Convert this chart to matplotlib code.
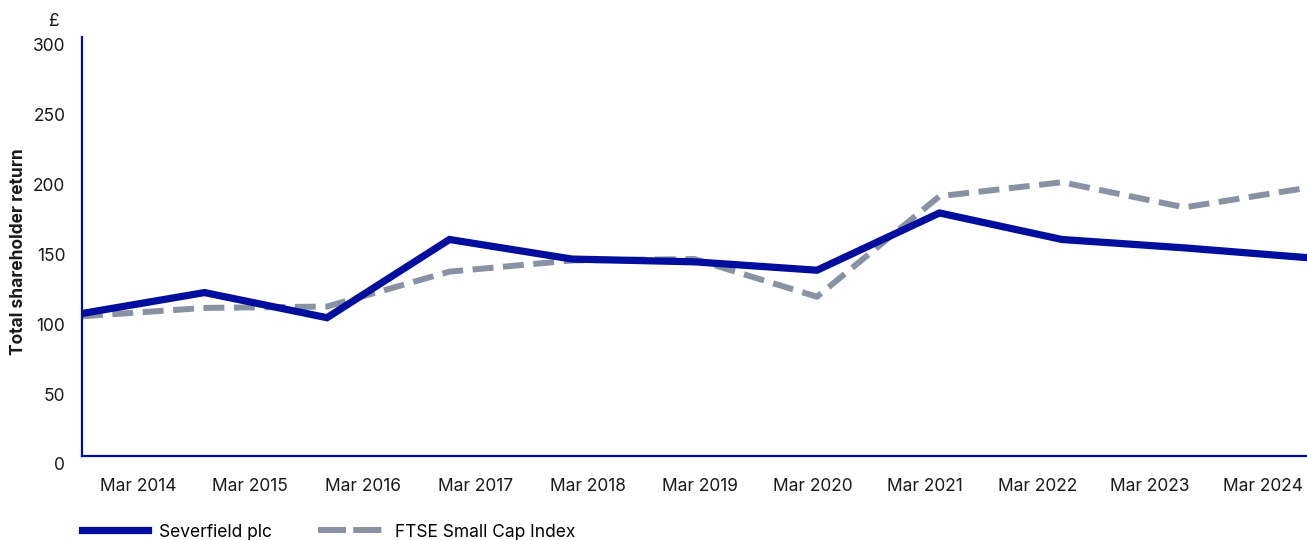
import matplotlib.pyplot as plt
from matplotlib import transforms
from matplotlib.lines import Line2D

plt.rcParams['font.family'] = ['Inter', 'DejaVu Sans']

years = ["Mar 2014", "Mar 2015", "Mar 2016", "Mar 2017", "Mar 2018", "Mar 2019",
         "Mar 2020", "Mar 2021", "Mar 2022", "Mar 2023", "Mar 2024"]
severfield = [102, 117, 99, 155, 141, 139, 133, 174, 155, 149, 142]
ftse_small_cap = [100, 106, 107, 132, 140, 141, 114, 186, 196, 178, 192]

navy = "#000e9e"
grey = "#8892a3"

fig = plt.figure(figsize=(13.07, 5.4), dpi=100)
ax = fig.add_axes([0.0627, 0.1556, 0.9373, 0.7759])

xs = list(range(len(severfield)))
ax.plot(xs, severfield, color=navy, lw=5.2, solid_joinstyle="miter", zorder=3)
ax.plot(xs, ftse_small_cap, color=grey, lw=4.3, dashes=(3.5, 1.6), zorder=2)

ax.set_xlim(0, len(xs) - 1)
ax.set_ylim(0, 300)
ax.set_yticks(range(0, 301, 50))

# category labels sit on their own spacing, a bit off the data points
label_pos = [0.457 + i * 0.918 for i in range(len(years))]
ax.set_xticks(label_pos)
ax.set_xticklabels(years)
ax.tick_params(axis="both", length=0, labelsize=12.5, colors="#1a1a1a")
ax.tick_params(axis="x", pad=16)
ax.tick_params(axis="y", pad=12)
shift = transforms.ScaledTranslation(0, -8 / 100, fig.dpi_scale_trans)
for lab in ax.get_yticklabels():
    lab.set_transform(lab.get_transform() + shift)

for s in ["top", "right"]:
    ax.spines[s].set_visible(False)
for s in ["left", "bottom"]:
    ax.spines[s].set_color(navy)
    ax.spines[s].set_linewidth(1.6)

fig.text(19 / 1307, 1 - 252 / 540, "Total shareholder return", rotation=90,
         ha="center", va="center", fontsize=12.5, fontweight="bold", color="#1a1a1a")
fig.text(53 / 1307, 1 - 22 / 540, "£", ha="center", va="center", fontsize=12.5,
         color="#1a1a1a")

handles = [Line2D([], [], color=navy, lw=5.2),
           Line2D([], [], color=grey, lw=4.3, dashes=(4.7, 1.2))]
fig.legend(handles, ["Severfield plc", "FTSE Small Cap Index"],
           loc="lower left", bbox_to_anchor=(0.051, -0.03), ncol=2, frameon=False,
           fontsize=12.5, handlelength=3.8, columnspacing=2.7, handletextpad=0.6)

fig.savefig("out.png", dpi=100)
